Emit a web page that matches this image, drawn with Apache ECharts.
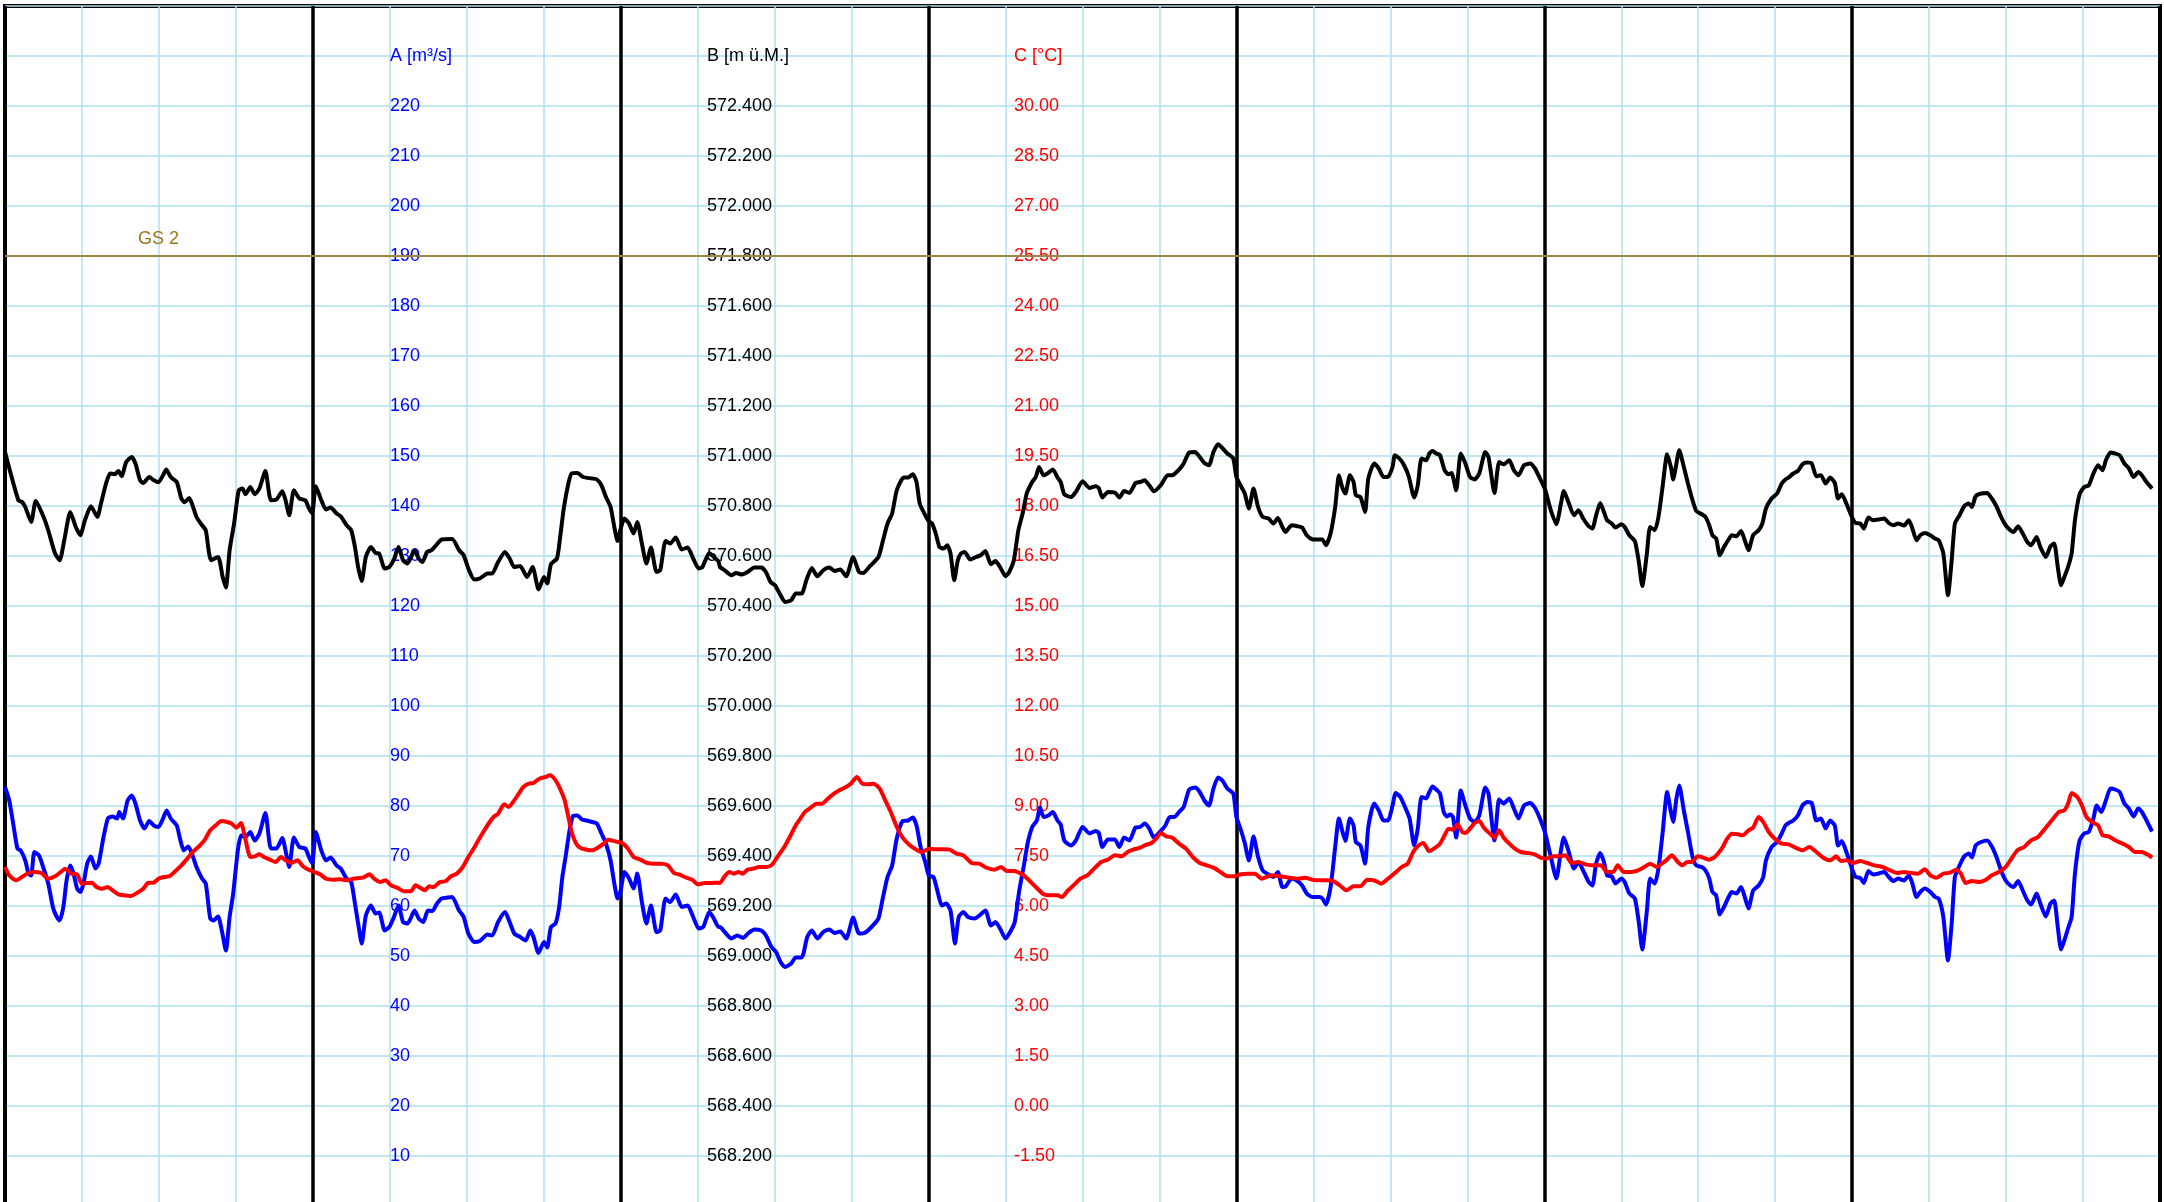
<!DOCTYPE html>
<html><head><meta charset="utf-8">
<script src="https://cdn.jsdelivr.net/npm/echarts/dist/echarts.min.js"></script>
<style>html,body{margin:0;padding:0;background:#fff}#c{width:2164px;height:1202px}</style>
</head><body><div id="c"></div>
<script>
// Axis titles (shown in place of the top tick of each axis)
const axisNames = ['A [m³/s]', 'B [m ü.M.]', 'C [°C]'];
// Threshold line
const thresholdName = 'GS 2';
const thresholdA = 190;
// Time axis: hours over 7 days
const hoursRange = [0, 168];
const rangeA = [0, 240, 10];
const rangeB = [568.0, 572.8, 0.2];
const rangeC = [-3, 33, 1.5];

// Series A (blue) [hour, m3/s]
const flowA = [[0,83.8],[0.33,81.1],[0.68,75.8],[0.97,71.5],[1.22,71.1],[1.58,69.1],[1.83,66.5],[2.04,66.1],[2.29,70.8],[2.65,70.1],[3.01,67.5],[3.37,64.5],[3.73,59.8],[3.98,58.1],[4.26,57.1],[4.55,59.8],[4.80,65.1],[5.09,68.1],[5.34,66.5],[5.62,63.5],[5.87,62.8],[6.12,64.5],[6.41,68.5],[6.70,69.9],[7.05,67.5],[7.30,68.5],[7.66,73.5],[8.02,77.5],[8.38,77.9],[8.74,77.5],[8.91,78.8],[9.20,77.5],[9.56,81.1],[9.88,82.1],[10.17,80.5],[10.53,77.1],[10.88,75.5],[11.24,77.0],[11.60,76.1],[11.96,75.8],[12.32,77.5],[12.60,79.1],[12.92,77.5],[13.39,76.1],[13.64,73.5],[13.93,71.1],[14.28,71.9],[14.57,70.5],[14.93,67.8],[15.36,65.5],[15.65,64.5],[16.00,57.5],[16.25,57.1],[16.61,57.9],[16.90,55.1],[17.22,51.1],[17.51,57.8],[17.79,62.5],[18.15,71.1],[18.40,74.1],[18.76,73.8],[19.12,74.8],[19.47,73.1],[19.83,74.5],[20.30,78.6],[20.73,71.5],[21.16,71.5],[21.62,73.6],[21.87,71.1],[22.16,67.8],[22.52,73.7],[22.94,71.8],[23.41,71.5],[23.70,69.8],[23.95,68.5],[24.23,74.8],[24.66,71.1],[25.02,69.1],[25.38,69.7],[25.85,68.1],[26.17,67.5],[26.63,65.5],[26.99,64.8],[27.28,60.5],[27.53,56.5],[27.81,52.5],[28.13,58.1],[28.53,60.1],[28.89,58.5],[29.17,58.7],[29.60,55.1],[29.96,55.8],[30.32,57.8],[30.68,60.1],[31.03,56.8],[31.39,56.5],[31.93,59.1],[32.25,57.5],[32.61,56.8],[32.97,59.1],[33.32,59.0],[33.68,60.5],[34.04,61.5],[34.51,61.7],[34.86,61.8],[35.40,59.1],[35.76,57.8],[36.12,54.5],[36.58,52.8],[37.01,53.0],[37.62,54.3],[37.98,54.1],[38.44,56.8],[38.98,58.8],[39.34,56.8],[39.70,54.5],[40.16,53.8],[40.59,53.1],[40.95,55.1],[41.20,53.8],[41.59,50.6],[42.02,52.8],[42.27,51.7],[42.56,55.8],[42.92,56.5],[43.20,59.8],[43.45,65.8],[43.70,69.8],[43.99,74.8],[44.28,78.0],[44.63,78.1],[44.99,77.3],[45.35,77.1],[45.78,76.8],[46.14,76.5],[46.50,74.5],[46.85,72.5],[47.21,69.1],[47.50,64.5],[47.75,61.5],[48.00,63.1],[48.29,66.8],[48.65,65.5],[49.00,63.5],[49.29,66.5],[49.65,60.8],[50.00,56.5],[50.36,60.1],[50.79,54.8],[51.08,55.1],[51.50,61.5],[51.86,60.8],[52.29,62.3],[52.76,59.8],[53.22,60.1],[53.65,57.8],[54.08,55.5],[54.43,55.8],[54.91,58.8],[55.26,57.5],[55.62,55.8],
[55.74,55.8],[56.10,54.8],[56.63,53.5],[57.10,54.1],[57.53,53.6],[57.96,54.6],[58.42,55.3],[58.96,55.1],[59.32,54.1],[59.75,51.8],[60.11,50.8],[60.46,48.8],[60.82,47.8],[61.29,48.5],[61.65,49.7],[62.11,49.7],[62.54,53.8],[62.90,55.1],[63.33,53.5],[63.79,54.8],[64.26,55.3],[64.69,54.6],[65.12,54.9],[65.58,53.5],[66.12,57.7],[66.58,54.5],[67.01,54.6],[67.55,55.8],[68.09,57.5],[68.45,61.8],[68.80,65.8],[69.16,68.1],[69.52,73.5],[69.98,77.0],[70.41,77.1],[70.77,77.7],[71.06,76.1],[71.38,71.8],[71.74,68.8],[72.02,66.1],[72.38,65.8],[72.74,62.5],[73.03,60.1],[73.38,60.5],[73.71,59.1],[74.06,52.5],[74.35,57.8],[74.71,58.8],[75.07,57.8],[75.60,57.5],[75.96,58.1],[76.43,59.1],[76.86,56.1],[77.21,56.8],[77.57,55.5],[78.00,53.5],[78.36,54.8],[78.72,56.8],[79.07,63.1],[79.43,68.1],[79.72,72.5],[80.08,75.8],[80.44,77.1],[80.69,79.7],[80.97,77.8],[81.33,78.1],[81.69,78.8],[82.05,77.1],[82.30,76.3],[82.58,73.1],[83.12,72.1],[83.48,73.1],[84.01,75.8],[84.55,74.5],[85.02,75.0],[85.27,74.6],[85.55,71.8],[85.98,73.3],[86.52,73.3],[86.88,71.8],[87.24,73.7],[87.66,73.1],[88.13,75.7],[88.49,75.8],[88.85,76.5],[89.20,75.5],[89.56,73.7],[90.03,74.8],[90.46,76.1],[90.81,77.8],[91.17,77.8],[91.53,78.8],[91.89,79.8],[92.32,83.3],[92.78,83.7],[93.14,82.8],[93.50,81.1],[93.86,80.1],[94.21,83.5],[94.57,85.7],[94.93,85.0],[95.29,83.5],[95.75,82.5],[96.00,77.8],[96.36,75.1],[96.65,72.6],[96.97,69.1],[97.33,73.9],[97.69,69.8],[98.05,67.1],[98.51,66.3],[98.87,65.8],[99.23,66.8],[99.58,63.8],[99.83,63.9],[100.30,65.5],[100.76,65.0],[101.12,64.1],[101.48,62.5],[101.91,61.8],[102.45,61.8],[102.70,61.5],[102.98,60.3],[103.34,63.8],[103.70,71.8],[103.99,77.5],[104.24,75.1],[104.49,73.0],[104.85,77.5],[105.13,76.1],[105.31,72.8],[105.67,72.1],[106.03,68.5],[106.28,75.8],[106.74,80.5],[107.10,79.1],[107.46,77.1],[107.82,77.1],[108.17,80.1],[108.42,82.6],[108.78,81.8],[109.14,79.8],[109.50,77.5],[109.86,72.1],[110.14,75.5],[110.43,81.8],[110.79,81.5],[111.04,82.8],[111.29,83.9],[111.58,83.3],
[111.87,82.5],[112.16,78.8],[112.41,77.9],[112.66,78.3],[112.88,77.8],[113.13,73.7],[113.49,83.1],[113.85,80.1],[114.21,77.5],[114.57,76.8],[114.93,78.1],[115.40,83.7],[115.65,82.5],[116.12,73.1],[116.48,81.3],[116.84,80.5],[117.27,81.5],[117.63,79.5],[117.99,77.5],[118.42,80.1],[118.89,80.6],[119.25,79.7],[119.61,77.8],[120.08,74.5],[120.51,69.8],[120.94,65.5],[121.30,71.1],[121.52,73.7],[121.88,71.1],[122.31,67.5],[122.67,68.8],[123.03,67.1],[123.46,64.8],[123.75,64.1],[124.04,68.5],[124.36,70.6],[124.65,68.8],[124.90,66.1],[125.26,65.9],[125.55,64.5],[126.02,65.5],[126.27,64.8],[126.63,62.5],[127.06,61.5],[127.35,57.1],[127.64,51.3],[128.00,59.1],[128.25,65.5],[128.61,64.5],[128.90,67.5],[129.22,74.5],[129.58,82.8],[129.87,78.8],[130.05,76.8],[130.30,81.5],[130.52,84.1],[130.88,79.1],[131.20,74.8],[131.56,69.8],[131.85,68.1],[132.28,67.8],[132.57,67.1],[132.86,65.5],[133.11,62.8],[133.40,62.1],[133.68,58.3],[134.01,59.8],[134.37,61.8],[134.62,62.8],[134.98,62.5],[135.34,63.8],[135.63,61.8],[135.92,59.5],[136.28,63.1],[136.71,64.1],[137.07,65.8],[137.28,69.1],[137.72,71.8],[138.15,72.8],[138.51,74.5],[138.80,76.1],[139.05,76.6],[139.41,77.1],[139.77,78.1],[140.13,80.1],[140.49,80.8],[140.85,80.6],[141.21,77.1],[141.57,77.5],[141.93,75.5],[142.29,77.1],[142.65,76.1],[142.90,72.1],[143.19,73.0],[143.55,70.8],[143.98,67.5],[144.27,65.8],[144.63,65.6],[144.91,64.6],[145.27,67.0],[145.63,66.3],[146.07,66.5],[146.50,66.8],[146.86,65.8],[147.22,65.0],[147.58,65.5],[148.05,65.1],[148.41,66.1],[148.66,64.8],[149.02,61.8],[149.31,62.8],[149.67,63.5],[150.10,62.8],[150.46,61.8],[150.75,61.5],[151.11,57.8],[151.47,49.1],[151.76,56.5],[152.01,65.8],[152.37,68.1],[152.73,69.9],[153.09,70.5],[153.34,69.7],[153.63,72.1],[154.06,72.8],[154.53,73.1],[154.89,71.9],[155.25,69.8],[155.61,67.1],[155.97,65.1],[156.33,64.1],[156.58,63.8],[156.94,65.0],[157.30,63.1],[157.66,61.1],[157.95,60.3],[158.38,62.5],[158.67,60.5],[159.10,57.9],[159.46,60.5],[159.75,61.1],[160.03,55.8],[160.29,51.3],[160.54,53.1],[160.83,55.5],[161.11,57.8],[161.37,66.5],[161.73,73.1],[162.09,74.5],[162.45,74.8],[162.81,77.5],[163.06,80.1],[163.42,78.8],[163.78,81.1],[164.14,83.5],[164.50,83.3],[164.86,82.8],[165.22,80.5],[165.58,79.5],[165.94,77.9],[166.30,79.5],[166.59,78.8],[166.95,77.1],[167.38,74.9]];

// Series B (black) [hour, m ü.M.]
const levelB = [[0,571.016],[1.04,570.823],[1.33,570.816],[1.58,570.796],[2.04,570.736],[2.40,570.820],[3.01,570.756],[3.37,570.703],[3.90,570.610],[4.26,570.583],[4.62,570.663],[5.09,570.776],[5.52,570.716],[5.87,570.683],[6.23,570.743],[6.70,570.799],[7.20,570.756],[7.48,570.810],[7.91,570.896],[8.20,570.930],[8.56,570.927],[8.84,570.940],[9.09,570.919],[9.45,570.976],[9.88,570.996],[10.17,570.970],[10.53,570.903],[10.78,570.892],[11.24,570.916],[11.60,570.903],[11.96,570.895],[12.32,570.923],[12.57,570.946],[12.92,570.916],[13.39,570.896],[13.75,570.830],[14.00,570.815],[14.36,570.832],[14.57,570.810],[14.93,570.756],[15.36,570.723],[15.65,570.703],[16.07,570.583],[16.61,570.596],[16.97,570.516],[17.22,570.474],[17.51,570.623],[17.86,570.730],[18.22,570.863],[18.51,570.870],[18.76,570.847],[19.12,570.876],[19.48,570.847],[19.83,570.870],[20.30,570.940],[20.73,570.823],[21.16,570.826],[21.62,570.859],[21.87,570.823],[22.16,570.763],[22.52,570.863],[22.94,570.830],[23.41,570.823],[23.70,570.790],[23.95,570.772],[24.23,570.879],[24.66,570.823],[25.02,570.786],[25.38,570.794],[25.85,570.770],[26.17,570.759],[26.63,570.723],[26.99,570.703],[27.28,570.636],[27.53,570.556],[27.81,570.500],[28.13,570.596],[28.53,570.636],[28.89,570.612],[29.17,570.610],[29.60,570.550],[29.96,570.556],[30.32,570.586],[30.68,570.636],[31.03,570.583],[31.39,570.570],[31.93,570.623],[32.25,570.590],[32.54,570.576],[32.90,570.616],[33.25,570.623],[33.61,570.643],[34.04,570.666],[34.86,570.668],[35.40,570.623],[35.76,570.603],[36.12,570.550],[36.58,570.506],[37.01,570.510],[37.62,570.530],[37.98,570.530],[38.44,570.576],[38.98,570.616],[39.34,570.590],[39.70,570.556],[40.16,570.560],[40.70,570.516],[41.13,570.556],[41.60,570.466],[42.02,570.516],[42.27,570.490],[42.56,570.567],[43.03,570.590],[43.28,570.676],[43.56,570.790],[43.92,570.890],[44.17,570.930],[44.64,570.932],[45.07,570.916],[45.78,570.910],[46.14,570.906],[46.50,570.883],[46.85,570.836],[47.21,570.796],[47.50,570.716],[47.75,570.660],[48.00,570.710],[48.29,570.750],[48.65,570.730],[49.00,570.690],[49.29,570.736],[49.65,570.650],[50.00,570.570],[50.36,570.634],[50.79,570.536],[51.08,570.543],[51.50,570.660],[51.86,570.650],[52.29,570.674],[52.76,570.626],[53.22,570.634],[53.65,570.590],[54.08,570.550],[54.37,570.556],[54.91,570.612],[55.26,570.596],[55.62,570.579],
[55.74,570.556],[56.10,570.543],[56.63,570.523],[56.99,570.532],[57.46,570.526],[57.89,570.536],[58.42,570.554],[58.96,570.554],[59.32,570.536],[59.68,570.496],[60.03,570.483],[60.39,570.450],[60.82,570.416],[61.29,570.423],[61.65,570.450],[62.11,570.450],[62.47,570.503],[62.90,570.552],[63.33,570.519],[63.79,570.543],[64.26,570.554],[64.69,570.540],[65.12,570.546],[65.58,570.519],[66.12,570.596],[66.58,570.536],[66.91,570.532],[67.37,570.556],[68.09,570.596],[68.45,570.663],[68.80,570.730],[69.16,570.770],[69.52,570.863],[70.06,570.914],[70.41,570.914],[70.77,570.927],[71.06,570.896],[71.31,570.810],[71.74,570.763],[72.02,570.739],[72.27,570.730],[72.56,570.690],[72.85,570.636],[73.17,570.630],[73.46,570.643],[73.71,570.610],[74.00,570.503],[74.28,570.583],[74.53,570.610],[74.82,570.616],[75.25,570.586],[75.71,570.596],[76.07,570.603],[76.43,570.620],[76.86,570.567],[77.21,570.580],[77.57,570.556],[78.00,570.519],[78.29,570.536],[78.65,570.583],[79.00,570.703],[79.36,570.776],[79.65,570.850],[80.08,570.896],[80.36,570.916],[80.61,570.956],[80.97,570.923],[81.33,570.932],[81.69,570.946],[82.05,570.914],[82.30,570.896],[82.58,570.847],[83.12,570.836],[83.48,570.856],[84.01,570.899],[84.55,570.872],[85.02,570.879],[85.27,570.872],[85.55,570.834],[85.98,570.856],[86.52,570.854],[86.88,570.834],[87.24,570.860],[87.66,570.852],[88.13,570.892],[88.49,570.896],[88.85,570.903],[89.20,570.883],[89.56,570.859],[90.10,570.883],[90.64,570.923],[90.99,570.923],[91.53,570.946],[91.89,570.970],[92.32,571.014],[92.78,571.016],[93.14,570.996],[93.50,570.972],[93.86,570.963],[94.21,571.016],[94.57,571.047],[94.93,571.030],[95.29,571.010],[95.75,570.990],[96.00,570.916],[96.36,570.879],[96.65,570.850],[96.97,570.790],[97.33,570.870],[97.69,570.796],[98.05,570.756],[98.51,570.750],[98.87,570.730],[99.23,570.752],[99.58,570.716],[99.83,570.696],[100.30,570.723],[100.76,570.719],[101.12,570.714],[101.48,570.683],[101.91,570.667],[102.45,570.666],[102.70,570.666],[102.98,570.643],[103.34,570.690],[103.70,570.796],[103.99,570.923],[104.24,570.876],[104.49,570.850],[104.85,570.923],[105.13,570.896],[105.31,570.843],[105.67,570.836],[106.03,570.776],[106.28,570.910],[106.74,570.970],[107.10,570.950],[107.46,570.916],[107.82,570.916],[108.17,570.956],[108.35,571.003],[108.71,570.990],[109.07,570.963],[109.43,570.919],[109.86,570.834],[110.14,570.883],[110.43,570.990],[110.79,570.983],[111.04,571.010],[111.29,571.020],[111.58,571.010],
[111.87,571.003],[112.23,570.943],[112.52,570.927],[112.77,570.932],[113.13,570.863],[113.49,571.010],[113.85,570.970],[114.21,570.916],[114.57,570.906],[114.93,570.930],[115.40,571.016],[115.65,570.996],[116.12,570.852],[116.48,570.976],[116.84,570.967],[117.27,570.983],[117.63,570.943],[117.99,570.923],[118.42,570.963],[118.89,570.970],[119.25,570.952],[119.61,570.916],[120.08,570.863],[120.51,570.783],[120.94,570.727],[121.30,570.810],[121.52,570.860],[121.88,570.816],[122.31,570.763],[122.67,570.783],[123.03,570.750],[123.46,570.719],[123.75,570.710],[124.04,570.763],[124.36,570.812],[124.65,570.776],[124.90,570.743],[125.26,570.730],[125.55,570.714],[126.02,570.727],[126.27,570.716],[126.63,570.683],[127.06,570.660],[127.35,570.583],[127.64,570.480],[128.00,570.610],[128.25,570.716],[128.61,570.703],[128.90,570.756],[129.22,570.876],[129.58,571.007],[129.87,570.956],[130.05,570.906],[130.30,570.970],[130.52,571.023],[130.88,570.956],[131.20,570.890],[131.56,570.823],[131.85,570.780],[132.28,570.767],[132.57,570.756],[132.86,570.723],[133.11,570.683],[133.40,570.670],[133.68,570.603],[134.01,570.636],[134.37,570.666],[134.62,570.683],[134.98,570.679],[135.34,570.700],[135.63,570.663],[135.92,570.623],[136.28,570.683],[136.71,570.703],[137.00,570.730],[137.28,570.790],[137.72,570.830],[138.15,570.850],[138.51,570.890],[138.80,570.906],[139.05,570.914],[139.41,570.930],[139.77,570.940],[140.13,570.967],[140.49,570.974],[140.85,570.970],[141.21,570.919],[141.57,570.923],[141.93,570.890],[142.29,570.914],[142.65,570.892],[142.90,570.830],[143.19,570.847],[143.55,570.810],[143.98,570.756],[144.27,570.732],[144.63,570.730],[144.91,570.710],[145.27,570.754],[145.63,570.743],[146.07,570.746],[146.50,570.750],[146.86,570.732],[147.22,570.723],[147.58,570.730],[148.05,570.722],[148.41,570.743],[148.66,570.716],[149.02,570.663],[149.31,570.683],[149.67,570.692],[150.10,570.683],[150.46,570.670],[150.75,570.663],[151.11,570.610],[151.47,570.443],[151.76,570.583],[152.01,570.730],[152.37,570.763],[152.73,570.799],[153.09,570.810],[153.34,570.796],[153.63,570.839],[154.06,570.850],[154.53,570.852],[154.89,570.830],[155.25,570.799],[155.61,570.756],[155.97,570.723],[156.33,570.703],[156.58,570.696],[156.94,570.719],[157.30,570.690],[157.66,570.656],[157.95,570.643],[158.38,570.676],[158.67,570.636],[159.10,570.596],[159.46,570.639],[159.75,570.650],[160.03,570.556],[160.29,570.483],[160.54,570.516],[160.83,570.556],[161.11,570.610],[161.37,570.743],[161.73,570.847],[162.09,570.876],[162.45,570.883],[162.81,570.930],[163.17,570.963],[163.53,570.943],[163.78,570.983],[164.14,571.014],[164.50,571.010],[164.86,571.003],[165.22,570.970],[165.58,570.950],[165.94,570.916],[166.30,570.936],[166.59,570.923],[166.95,570.896],[167.38,570.870]];

// Series C (red) [hour, °C]
const tempC = [[0,7.17],[0.33,6.92],[0.86,6.77],[1.40,6.89],[1.83,6.99],[2.29,7.02],[2.83,6.99],[3.37,6.82],[3.90,6.89],[4.44,7.05],[4.69,7.12],[5.16,6.97],[5.62,6.95],[5.98,6.67],[6.41,6.69],[6.77,6.70],[7.13,6.57],[7.56,6.52],[8.02,6.57],[8.38,6.47],[8.84,6.35],[9.27,6.32],[9.81,6.30],[10.28,6.39],[10.78,6.52],[11.14,6.69],[11.60,6.70],[11.96,6.82],[12.42,6.87],[12.85,6.90],[13.21,7.02],[13.75,7.22],[14.21,7.42],[14.64,7.62],[15.07,7.77],[15.54,7.97],[16.00,8.27],[16.43,8.42],[16.86,8.55],[17.33,8.52],[17.68,8.47],[18.04,8.35],[18.40,8.49],[18.76,7.97],[19.12,7.47],[19.47,7.49],[19.83,7.55],[20.19,7.47],[20.65,7.39],[21.09,7.32],[21.51,7.47],[21.87,7.37],[22.34,7.29],[22.80,7.37],[23.23,7.19],[23.66,7.09],[24.13,7.02],[24.56,6.95],[25.02,6.82],[25.56,6.79],[26.10,6.80],[26.63,6.77],[27.17,6.82],[27.88,6.85],[28.42,6.95],[28.78,6.82],[29.24,6.72],[29.67,6.77],[30.10,6.62],[30.57,6.55],[31.11,6.44],[31.64,6.44],[32.00,6.62],[32.36,6.55],[32.72,6.47],[33.07,6.59],[33.43,6.57],[33.90,6.72],[34.33,6.74],[34.76,6.89],[35.22,6.97],[35.69,7.17],[36.12,7.47],[36.48,7.69],[36.90,7.97],[37.37,8.27],[37.73,8.49],[38.09,8.67],[38.44,8.77],[38.91,9.05],[39.27,8.97],[39.70,9.17],[40.05,9.37],[40.41,9.57],[40.84,9.67],[41.20,9.69],[41.66,9.82],[42.13,9.87],[42.49,9.92],[42.92,9.77],[43.27,9.52],[43.63,9.17],[43.92,8.67],[44.17,8.22],[44.53,7.87],[44.88,7.74],[45.35,7.69],[45.78,7.67],[46.21,7.75],[46.67,7.87],[47.03,7.99],[47.57,7.94],[48.11,7.89],[48.57,7.72],[49.00,7.47],[49.54,7.39],[50.07,7.29],[50.61,7.27],[51.15,7.27],[51.68,7.22],[52.15,6.99],[52.58,6.94],[53.12,6.85],[53.58,6.79],[54.01,6.65],[54.55,6.69],[55.09,6.69],[55.62,6.70],
[55.74,6.69],[56.10,6.89],[56.46,7.02],[56.81,6.97],[57.17,7.02],[57.53,6.97],[57.89,7.09],[58.32,7.12],[58.78,7.17],[59.32,7.17],[59.75,7.22],[60.21,7.47],[60.75,7.77],[61.18,8.07],[61.65,8.42],[62.00,8.62],[62.36,8.82],[62.72,8.92],[63.26,9.07],[63.69,9.07],[64.15,9.22],[64.62,9.37],[65.05,9.47],[65.47,9.55],[65.94,9.67],[66.41,9.87],[66.83,9.67],[67.26,9.65],[67.73,9.67],[68.19,9.52],[68.62,9.17],[69.05,8.82],[69.52,8.37],[69.98,8.05],[70.49,7.84],[71.06,7.69],[71.49,7.62],[72.02,7.72],[72.56,7.70],[73.10,7.70],[73.64,7.69],[74.17,7.57],[74.71,7.52],[75.35,7.29],[75.96,7.27],[76.50,7.15],[77.14,7.09],[77.64,7.17],[78.11,7.05],[78.65,7.05],[79.29,6.95],[79.79,6.79],[80.36,6.57],[80.97,6.35],[81.51,6.32],[82.05,6.32],[82.40,6.27],[82.87,6.47],[83.30,6.62],[83.84,6.82],[84.37,6.92],[84.91,7.12],[85.45,7.32],[85.98,7.39],[86.52,7.52],[87.06,7.49],[87.52,7.62],[87.95,7.69],[88.49,7.75],[88.85,7.82],[89.38,7.89],[89.81,8.05],[90.10,8.19],[90.53,8.09],[90.99,8.05],[91.53,7.87],[92.07,7.72],[92.60,7.47],[93.14,7.29],[93.68,7.22],[94.21,7.15],[94.75,7.02],[95.29,6.89],[95.82,6.89],[96.36,6.95],[96.90,6.97],[97.44,6.97],[97.97,6.82],[98.69,6.92],[99.40,6.89],[100.12,6.85],[100.76,6.82],[101.37,6.85],[101.91,6.79],[102.45,6.77],[102.98,6.77],[103.52,6.75],[104.06,6.62],[104.59,6.47],[105.13,6.59],[105.67,6.59],[106.20,6.79],[106.74,6.77],[107.28,6.67],[107.82,6.82],[108.35,6.99],[108.89,7.17],[109.35,7.27],[109.78,7.62],[110.21,7.82],[110.57,7.89],[111.04,7.64],[111.39,7.72],
[111.87,7.87],[112.23,8.12],[112.52,8.32],[112.88,8.29],[113.24,8.45],[113.60,8.22],[113.85,8.19],[114.21,8.32],[114.57,8.49],[114.93,8.55],[115.29,8.35],[115.76,8.17],[116.12,8.05],[116.48,8.27],[116.84,8.05],[117.27,7.87],[117.70,7.72],[118.17,7.62],[118.71,7.59],[119.25,7.55],[119.72,7.45],[120.15,7.42],[120.69,7.49],[121.23,7.49],[121.66,7.52],[122.13,7.29],[122.67,7.32],[123.21,7.25],[123.75,7.22],[124.40,7.22],[124.90,7.02],[125.37,7.02],[125.73,7.22],[126.20,7.02],[126.70,7.02],[127.17,7.05],[127.71,7.15],[128.25,7.27],[128.79,7.17],[129.15,7.27],[129.51,7.37],[129.94,7.52],[130.41,7.32],[130.77,7.22],[131.13,7.32],[131.49,7.32],[131.96,7.49],[132.39,7.45],[132.82,7.39],[133.29,7.47],[133.83,7.72],[134.26,8.02],[134.62,8.17],[135.09,8.15],[135.45,8.12],[135.92,8.27],[136.28,8.35],[136.71,8.67],[137.07,8.52],[137.50,8.22],[137.97,8.02],[138.51,7.87],[139.05,7.85],[139.59,7.75],[140.13,7.67],[140.67,7.77],[141.21,7.62],[141.75,7.45],[142.29,7.37],[142.76,7.49],[143.12,7.35],[143.55,7.37],[144.09,7.29],[144.63,7.35],[145.17,7.29],[145.71,7.22],[146.36,7.17],[146.97,7.07],[147.51,6.99],[148.05,7.02],[148.59,6.99],[149.13,6.97],[149.67,7.10],[150.10,6.92],[150.57,6.85],[151.11,6.97],[151.65,7.00],[152.12,7.09],[152.48,6.97],[152.84,6.69],[153.34,6.75],[153.92,6.72],[154.42,6.79],[154.89,6.92],[155.43,7.02],[155.97,7.17],[156.33,7.37],[156.87,7.67],[157.41,7.77],[157.95,7.97],[158.49,8.07],[159.03,8.32],[159.57,8.57],[160.11,8.82],[160.54,8.87],[160.83,9.07],[161.12,9.39],[161.55,9.27],[161.91,9.02],[162.27,8.67],[162.70,8.52],[163.17,8.42],[163.53,8.12],[164.00,8.09],[164.50,7.97],[165.08,7.87],[165.58,7.77],[166.05,7.62],[166.59,7.62],[167.13,7.52],[167.38,7.45]];

const FONT = '"Liberation Sans", Arial, Helvetica, sans-serif';
const GRID_BLUE = '#ade0ef';

function near(a, b) { return Math.abs(a - b) < 1e-6; }
function makeFormatter(range, name, digits) {
  const [mn, mx, step] = range;
  return function (v) {
    const r = Math.round(v * 1000) / 1000;
    if (near(r, mx - step)) return name;
    if (r > mn + step / 2 && r < mx - step * 1.5) return r.toFixed(digits);
    return '';
  };
}
function yAxisDef(range, name, digits, color, offset, showSplit) {
  return {
    type: 'value', position: 'left', offset: offset,
    min: range[0], max: range[1], interval: range[2],
    axisLine: { show: false }, axisTick: { show: false },
    splitLine: { show: showSplit, lineStyle: { color: GRID_BLUE, width: 1.5 } },
    axisLabel: {
      inside: true, margin: 0, color: color, fontSize: 18, fontFamily: FONT,
      padding: [3, 0, 0, 0],
      showMinLabel: true, showMaxLabel: true, hideOverlap: false,
      formatter: makeFormatter(range, name, digits)
    }
  };
}

const chart = echarts.init(document.getElementById('c'), null, { renderer: 'canvas' });
chart.setOption({
  animation: false,
  backgroundColor: '#ffffff',
  grid: {
    left: 5, right: 4, top: 6, bottom: -4,
    show: true, borderColor: '#000', borderWidth: 4, backgroundColor: 'transparent',
    containLabel: false, outerBoundsMode: 'none'
  },
  xAxis: [
    { type: 'value', min: hoursRange[0], max: hoursRange[1], interval: 6,
      axisLine: { show: false }, axisTick: { show: false }, axisLabel: { show: false },
      splitLine: { show: true, lineStyle: { color: GRID_BLUE, width: 1.5 } } },
    { type: 'value', position: 'top', min: hoursRange[0], max: hoursRange[1], interval: 24,
      axisLine: { show: false }, axisTick: { show: false }, axisLabel: { show: false },
      splitLine: { show: true, lineStyle: { color: '#000', width: 3.5 } } }
  ],
  yAxis: [
    yAxisDef(rangeA, axisNames[0], 0, '#0000ff', -385, true),
    yAxisDef(rangeB, axisNames[1], 3, '#000000', -702, false),
    yAxisDef(rangeC, axisNames[2], 2, '#ff0000', -1009, false)
  ],
  series: [
    { name: 'A', type: 'line', xAxisIndex: 0, yAxisIndex: 0, data: flowA,
      showSymbol: false, smooth: 0.2, lineStyle: { color: '#0000ff', width: 4 },
      markLine: {
        silent: true, symbol: ['none', 'none'], animation: false,
        lineStyle: { color: '#9b8747', width: 2, type: 'solid' },
        label: { show: true, position: 'insideStartTop', distance: [133, 8],
          formatter: thresholdName, color: '#9c7619', fontSize: 18, fontFamily: FONT },
        emphasis: { disabled: true },
        data: [{ yAxis: thresholdA }]
      } },
    { name: 'C', type: 'line', xAxisIndex: 0, yAxisIndex: 2, data: tempC,
      showSymbol: false, smooth: 0.2, lineStyle: { color: '#ff0000', width: 4 } },
    { name: 'B', type: 'line', xAxisIndex: 0, yAxisIndex: 1, data: levelB,
      showSymbol: false, smooth: 0.2, lineStyle: { color: '#000000', width: 4 } }
  ]
});
</script>
</body></html>
